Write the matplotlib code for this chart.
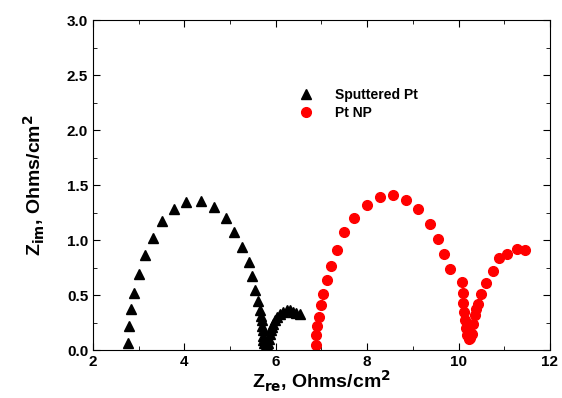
import matplotlib.pyplot as plt
from matplotlib.ticker import MultipleLocator

plt.rcParams['font.family'] = ['Liberation Sans', 'DejaVu Sans']
plt.rcParams['font.weight'] = 'bold'

# Sputtered Pt (black triangles)
zre_sp = [2.76, 2.79, 2.83, 2.90, 3.01, 3.14, 3.31, 3.52, 3.78, 4.03, 4.36, 4.64,
          4.90, 5.09, 5.27, 5.41, 5.48, 5.55, 5.62, 5.65, 5.67, 5.69, 5.70, 5.71,
          5.72, 5.73, 5.75, 5.78, 5.81, 5.84, 5.86, 5.87, 5.89, 5.91, 5.94, 5.98,
          6.03, 6.09, 6.16, 6.24, 6.31, 6.38, 6.45, 6.53]
zim_sp = [0.06, 0.22, 0.37, 0.52, 0.69, 0.86, 1.02, 1.17, 1.28, 1.35, 1.355, 1.30,
          1.20, 1.07, 0.94, 0.80, 0.67, 0.55, 0.45, 0.36, 0.31, 0.27, 0.22, 0.18,
          0.13, 0.09, 0.06, 0.05, 0.05, 0.06, 0.10, 0.15, 0.18, 0.21, 0.24, 0.27,
          0.30, 0.33, 0.35, 0.36, 0.36, 0.35, 0.34, 0.33]

# Pt NP (red circles)
zre_np = [6.89, 6.89, 6.90, 6.94, 6.98, 7.04, 7.13, 7.20, 7.33, 7.50, 7.71, 7.99,
          8.27, 8.56, 8.86, 9.12, 9.37, 9.56, 9.68, 9.81, 10.07, 10.09, 10.10, 10.11,
          10.14, 10.16, 10.19, 10.23, 10.26, 10.29, 10.32, 10.35, 10.39, 10.43, 10.50,
          10.61, 10.75, 10.89, 11.07, 11.27, 11.46]
zim_np = [0.045, 0.14, 0.22, 0.30, 0.41, 0.51, 0.64, 0.76, 0.91, 1.07, 1.20, 1.32,
          1.39, 1.41, 1.36, 1.28, 1.15, 1.01, 0.87, 0.74, 0.62, 0.52, 0.43, 0.35,
          0.27, 0.20, 0.14, 0.10, 0.11, 0.15, 0.24, 0.32, 0.37, 0.42, 0.51,
          0.61, 0.72, 0.84, 0.87, 0.92, 0.91]

fig = plt.figure(figsize=(5.62, 3.98), dpi=100)
ax = fig.add_axes([0.1655, 0.1206, 0.8131, 0.8291])
ax.plot(zre_sp, zim_sp, linestyle="none", marker="^", color="black", markersize=7.5, label="Sputtered Pt")
ax.plot(zre_np, zim_np, linestyle="none", marker="o", color="red", markersize=7, label="Pt NP")

ax.set_xlim(2, 12)
ax.set_ylim(0, 3.0)
ax.xaxis.set_major_locator(MultipleLocator(2))
ax.xaxis.set_minor_locator(MultipleLocator(1))
ax.yaxis.set_major_locator(MultipleLocator(0.5))
ax.yaxis.set_minor_locator(MultipleLocator(0.25))
ax.tick_params(which="both", direction="in", top=True, right=True, labelsize=11)
ax.tick_params(which="major", length=5)
ax.tick_params(which="minor", length=3)
for lab in ax.get_xticklabels() + ax.get_yticklabels():
    lab.set_fontweight("bold")

ax.set_xlabel(r"Z$_{\mathbf{re}}$, Ohms/cm$^{\mathbf{2}}$", fontsize=14, fontweight="bold", labelpad=0)
ax.set_ylabel(r"Z$_{\mathbf{im}}$, Ohms/cm$^{\mathbf{2}}$", fontsize=14, fontweight="bold", labelpad=14)

ax.legend(loc="upper left", bbox_to_anchor=(0.435, 0.81), frameon=False, fontsize=10,
          handletextpad=1.5, borderaxespad=0, labelspacing=0.25, handlelength=1.2)

fig.savefig("out.png", dpi=100)
